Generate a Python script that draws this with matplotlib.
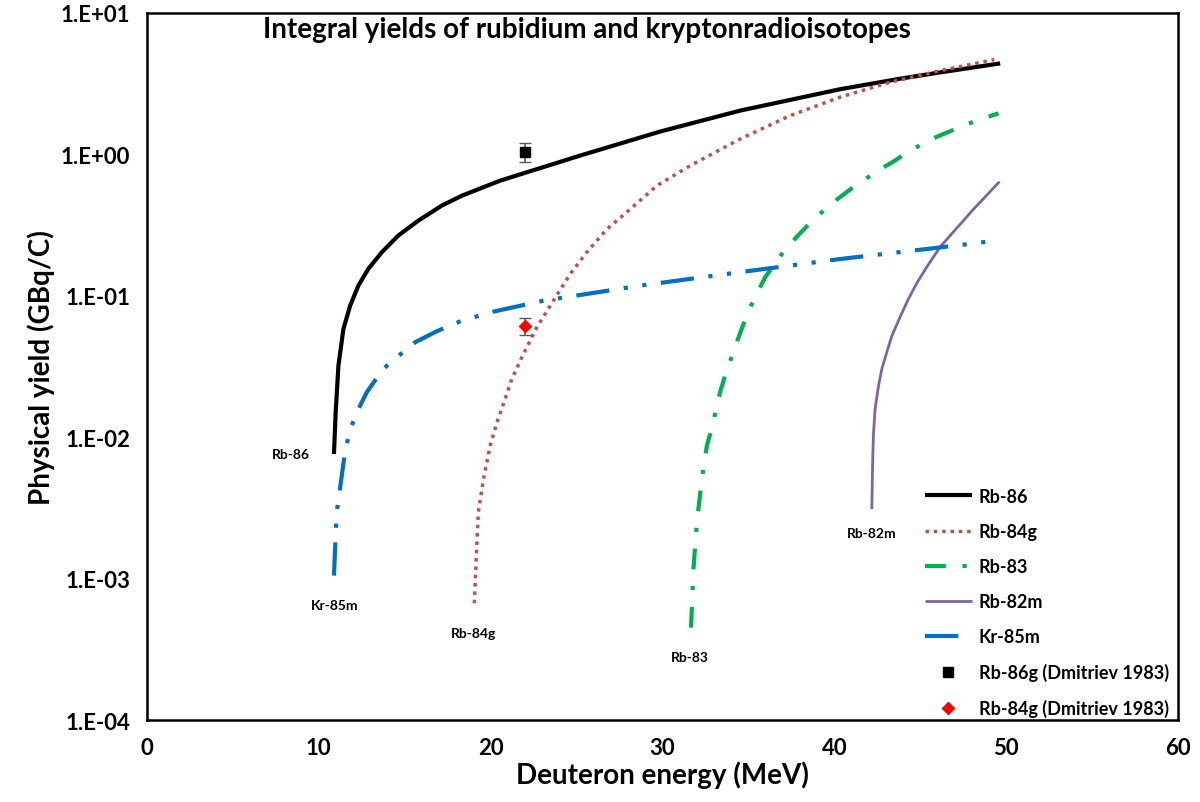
import numpy as np
from matplotlib import pyplot as plt

plt.rcParams['font.family'] = ['Lato', 'DejaVu Sans']
plt.rcParams['font.weight'] = 'bold'

# calculated integral yields (GBq/C) vs deuteron energy (MeV)
rb86_e = [10.88, 10.98, 11.14, 11.43, 11.82, 12.30, 12.88, 13.66, 14.63, 15.79, 17.15, 18.32, 20.55,
          25.20, 29.86, 34.52, 40.34, 43.83, 46.16, 49.65]
rb86_y = [0.0076, 0.0150, 0.0321, 0.0582, 0.0851, 0.118, 0.155, 0.203, 0.267, 0.340, 0.434, 0.51, 0.652,
          0.98, 1.45, 2.04, 2.89, 3.43, 3.80, 4.40]

rb84g_e = [19.05, 19.19, 19.28, 19.58, 19.97, 20.36, 20.84, 21.23, 21.81, 22.68, 23.65, 24.62, 25.59, 26.76,
           27.92, 29.67, 31.61, 34.52, 37.43, 40.34, 43.25, 46.16, 49.3]
rb84g_y = [0.00067, 0.00171, 0.00294, 0.00506, 0.0087, 0.0127, 0.0186, 0.0258, 0.0367, 0.0598, 0.0923,
           0.1425, 0.203, 0.296, 0.39, 0.601, 0.832, 1.285, 1.88, 2.54, 3.24, 3.91, 4.68]

rb83_e = [31.66, 31.80, 32.0, 32.29, 32.58, 32.87, 33.35, 33.64, 34.32, 35.0, 35.97, 37.04, 37.82, 38.40,
          39.27, 39.95, 40.92, 41.89, 42.67, 43.44, 44.22, 45.58, 46.26, 48.19, 49.55]
rb83_y = [0.00045, 0.00117, 0.0025, 0.00506, 0.0087, 0.0116, 0.0208, 0.0272, 0.0469, 0.0785, 0.135, 0.205,
          0.262, 0.31, 0.39, 0.46, 0.565, 0.68, 0.785, 0.89, 1.03, 1.27, 1.38, 1.72, 1.95]

rb82m_e = [42.18, 42.22, 42.27, 42.37, 42.57, 42.76, 43.05, 43.35, 43.83, 44.31, 44.80, 45.38, 46.16,
           48.10, 49.61]
rb82m_y = [0.0031, 0.0060, 0.0103, 0.0158, 0.0231, 0.0303, 0.0398, 0.0522, 0.071, 0.095, 0.123, 0.16,
           0.222, 0.41, 0.641]

kr85m_e = [10.88, 11.04, 11.52, 11.82, 12.11, 12.40, 12.79, 13.46, 13.95, 14.53, 15.60, 16.86, 18.32,
           20.16, 23.07, 28.70, 34.52, 40.34, 45.77, 49.6]
kr85m_y = [0.00105, 0.00294, 0.0078, 0.0114, 0.0138, 0.0167, 0.0208, 0.0272, 0.032, 0.0367, 0.0469,
           0.0561, 0.0667, 0.0773, 0.0923, 0.118, 0.147, 0.182, 0.217, 0.247]

# Dmitriev 1983 experimental points
exp_e = [22.0, 22.0]
exp_y = [1.04, 0.061]
exp_err = [0.16, 0.0085]

fig, ax = plt.subplots(figsize=(12, 8.03), dpi=100)
fig.subplots_adjust(left=0.1225, right=0.9817, bottom=0.1021, top=0.9826)

kw = dict(solid_joinstyle='round', solid_capstyle='butt')
ax.plot(rb86_e, rb86_y, color='black', lw=3, label='Rb-86', **kw)
ax.plot(rb84g_e, rb84g_y, color='#C0504D', lw=2.5, linestyle=(0, (1, 1.4)), label='Rb-84g')
ax.plot(rb83_e, rb83_y, color='#00B050', lw=3, linestyle=(0, (5, 4, 1, 4)), label='Rb-83')
ax.plot(rb82m_e, rb82m_y, color='#8064A2', lw=2, label='Rb-82m', **kw)
ax.plot(kr85m_e, kr85m_y, color='#0070C0', lw=3, linestyle=(0, (8, 3.5, 1, 3.5, 1, 3.5)), label='Kr-85m')

ax.errorbar(exp_e, exp_y, yerr=exp_err, fmt='none', ecolor='#595959', elinewidth=1.2, capsize=4)
ax.plot(exp_e[0], exp_y[0], 's', color='black', ms=7, ls='none', label='Rb-86g (Dmitriev 1983)')
ax.plot(exp_e[1], exp_y[1], 'D', color='#FF0000', ms=6, ls='none', label='Rb-84g (Dmitriev 1983)')

ax.set_yscale('log')
ax.set_xlim(0, 60)
ax.set_ylim(1e-4, 10)
ax.set_xticks([0, 10, 20, 30, 40, 50, 60])
ax.set_yticks([1e-4, 1e-3, 1e-2, 1e-1, 1, 10])
ax.set_yticklabels(['1.E-04', '1.E-03', '1.E-02', '1.E-01', '1.E+00', '1.E+01'])
ax.minorticks_off()
ax.tick_params(length=0, labelsize=16, pad=12)
for lab in ax.get_xticklabels() + ax.get_yticklabels():
    lab.set_fontweight('bold')
for s in ax.spines.values():
    s.set_linewidth(1.8)
    s.set_color('black')

ax.set_xlabel('Deuteron energy (MeV)', fontsize=20, fontweight='bold', labelpad=2)
ax.set_ylabel('Physical yield (GBq/C)', fontsize=20, fontweight='bold', labelpad=4)
ax.text(0.427, 0.977, 'Integral yields of rubidium and kryptonradioisotopes', transform=ax.transAxes,
        ha='center', va='center', fontsize=20, fontweight='bold')

# curve end labels
ax.text(8.4, 0.0076, 'Rb-86', ha='center', va='center', fontsize=10, fontweight='bold')
ax.text(10.9, 0.00065, 'Kr-85m', ha='center', va='center', fontsize=10, fontweight='bold')
ax.text(19.0, 0.00041, 'Rb-84g', ha='center', va='center', fontsize=10, fontweight='bold')
ax.text(31.6, 0.00028, 'Rb-83', ha='center', va='center', fontsize=10, fontweight='bold')
ax.text(42.2, 0.0021, 'Rb-82m', ha='center', va='center', fontsize=10, fontweight='bold')

leg = ax.legend(loc='lower right', bbox_to_anchor=(1.0, -0.009), frameon=False, fontsize=13,
                handlelength=2.6, labelspacing=1.0, borderaxespad=0.1, handletextpad=0.4)
for t in leg.get_texts():
    t.set_fontweight('bold')

plt.savefig('out.png', dpi=100)
